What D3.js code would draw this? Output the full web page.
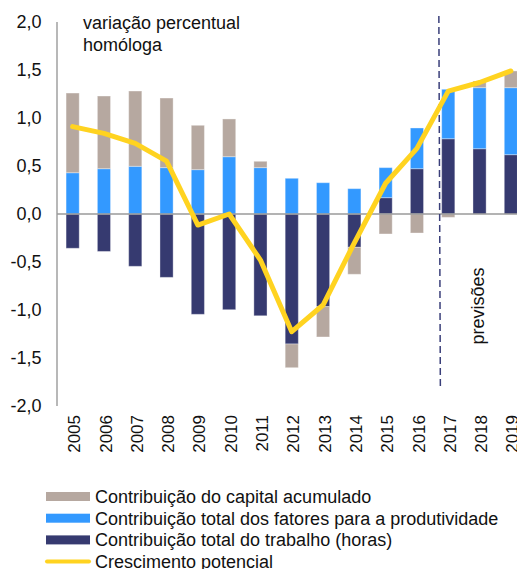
<!DOCTYPE html>
<html>
<head>
<meta charset="utf-8">
<script src="https://cdn.jsdelivr.net/npm/d3@7"></script>
<style>
  html, body { margin: 0; padding: 0; background: #fff; }
  svg { display: block; font-family: "Liberation Sans", Arial, sans-serif; }
</style>
</head>
<body>
<svg id="chart" width="517" height="569"></svg>
<script>
const years = ["2005","2006","2007","2008","2009","2010","2011","2012","2013","2014","2015","2016","2017","2018","2019"];
const labor   = [-0.357, -0.39, -0.545, -0.66, -1.045, -0.997, -1.06, -1.354, -0.965, -0.347, 0.17, 0.472, 0.784, 0.68, 0.618];
const tfp     = [0.43, 0.472, 0.497, 0.483, 0.462, 0.597, 0.483, 0.372, 0.326, 0.264, 0.313, 0.424, 0.515, 0.636, 0.698];
const capital = [0.83, 0.757, 0.784, 0.725, 0.462, 0.393, 0.066, -0.247, -0.316, -0.281, -0.208, -0.198, -0.035, 0.069, 0.174];
const growth  = [0.91, 0.84, 0.736, 0.55, -0.115, 0.0, -0.48, -1.226, -0.948, -0.30, 0.32, 0.684, 1.28, 1.37, 1.49];
const yTicks = [-2, -1.5, -1, -0.5, 0, 0.5, 1, 1.5, 2];
const seriesNames = ["Contribuição do capital acumulado", "Contribuição total dos fatores para a produtividade", "Contribuição total do trabalho (horas)", "Crescimento potencial"];
const titleLines = ["variação percentual", "homóloga"];
const forecastLabel = "previsões";
const forecastStart = "2017";

const colors = { labor: "#363a70", tfp: "#3399ff", capital: "#b6a8a0", growth: "#ffd320" };

const svg = d3.select("#chart");
const mLeft = 57, mRight = 526.5, mTop = 22, mBottom = 406;

const x = d3.scaleBand().domain(years).range([mLeft, mRight]).paddingInner(0.58).paddingOuter(0.29);
const y = d3.scaleLinear().domain([-2, 2]).range([mBottom, mTop]);

const table = years.map((yr, i) => ({ year: yr, labor: labor[i], tfp: tfp[i], capital: capital[i] }));
const keys = ["labor", "tfp", "capital"];
const stacked = d3.stack().keys(keys).offset(d3.stackOffsetDiverging)(table);

// Y axis line
svg.append("line").attr("x1", mLeft).attr("x2", mLeft).attr("y1", y(2)).attr("y2", y(-2))
  .attr("stroke", "#a0a0a0").attr("stroke-width", 1.5);

// Y tick labels
svg.append("g").selectAll("text").data(yTicks).join("text")
  .attr("x", 41.5).attr("y", d => y(d)).attr("dy", "0.36em")
  .attr("text-anchor", "end").attr("font-size", 18).attr("fill", "#111")
  .text(d => d3.format(".1f")(d).replace(".", ",").replace("−", "-"));

// Bars
svg.append("g").selectAll("g").data(stacked).join("g")
  .attr("fill", d => colors[d.key])
  .selectAll("rect").data(d => d).join("rect")
  .attr("x", d => x(d.data.year))
  .attr("width", x.bandwidth())
  .attr("y", d => y(Math.max(d[0], d[1])))
  .attr("height", d => Math.abs(y(d[0]) - y(d[1])))
  .attr("stroke", "#ffffff").attr("stroke-opacity", 0.35).attr("stroke-width", 1);

// Zero line
svg.append("line").attr("x1", mLeft).attr("x2", 517).attr("y1", y(0)).attr("y2", y(0))
  .attr("stroke", "#9a9a9a").attr("stroke-width", 1.5);

// Forecast divider
const divX = x(forecastStart) + x.bandwidth() / 2 - x.step() * 0.3;
svg.append("line").attr("x1", divX).attr("x2", divX + 1.5).attr("y1", 16).attr("y2", 388)
  .attr("stroke", "#3a3f7a").attr("stroke-width", 1.5).attr("stroke-dasharray", "7,4");

// Growth line
const line = d3.line().x((d, i) => x(years[i]) + x.bandwidth() / 2).y(d => y(d));
svg.append("path").datum(growth).attr("d", line)
  .attr("fill", "none").attr("stroke", colors.growth).attr("stroke-width", 5)
  .attr("stroke-linejoin", "round").attr("stroke-linecap", "round");

// Year labels
svg.append("g").selectAll("text").data(years).join("text")
  .attr("transform", d => `translate(${x(d) + x.bandwidth() / 2 + 1.5},415) rotate(-90)`)
  .attr("text-anchor", "end").attr("dy", "0.36em").attr("font-size", 17).attr("fill", "#111")
  .text(d => d);

// Title
svg.append("g").selectAll("text").data(titleLines).join("text")
  .attr("x", 83).attr("y", (d, i) => 28.5 + i * 22)
  .attr("font-size", 18).attr("fill", "#111").text(d => d);

// Forecast label
svg.append("text").attr("transform", `translate(478,306) rotate(-90)`)
  .attr("text-anchor", "middle").attr("dy", "0.36em").attr("font-size", 18).attr("fill", "#111")
  .text(forecastLabel);

// Legend
const legendColors = [colors.capital, colors.tfp, colors.labor, colors.growth];
const lg = svg.append("g");
seriesNames.forEach((name, i) => {
  const cy = 496.5 + i * 21.7;
  if (i < 3) {
    lg.append("rect").attr("x", 46).attr("y", cy - 4.5).attr("width", 44).attr("height", 9).attr("fill", legendColors[i]);
  } else {
    lg.append("line").attr("x1", 47).attr("x2", 89).attr("y1", cy).attr("y2", cy)
      .attr("stroke", legendColors[i]).attr("stroke-width", 4).attr("stroke-linecap", "round");
  }
  lg.append("text").attr("x", 95).attr("y", cy).attr("dy", "0.36em")
    .attr("font-size", 18).attr("fill", "#111").text(name);
});
</script>
</body>
</html>
